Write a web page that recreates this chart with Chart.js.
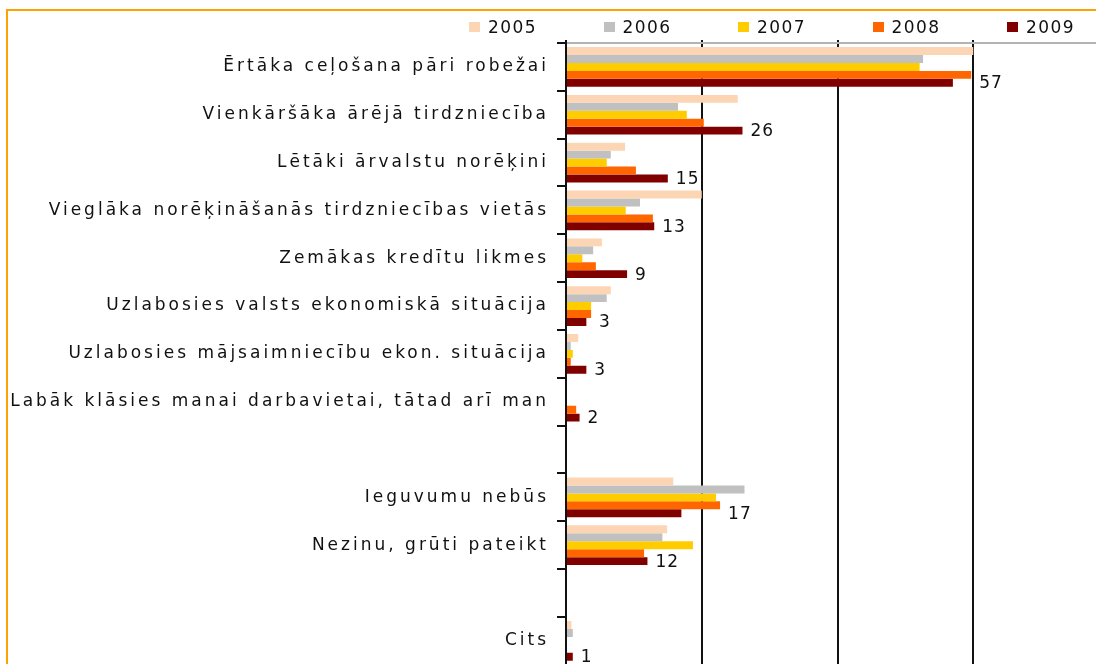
<!DOCTYPE html>
<html>
<head>
<meta charset="utf-8">
<script src="https://cdn.jsdelivr.net/npm/chart.js@4"></script>
<style>
  html, body { margin: 0; padding: 0; background: #fff; overflow: hidden; width: 1096px; height: 664px; }
  .rule { position: absolute; background: #ffa200; }
  #chart { position: absolute; left: 0; top: 0; }
  #legend { position: absolute; left: 469px; top: 18px; display: flex; }
  .item { width: 134.5px; display: flex; align-items: center; height: 18px;
          font: 17px "DejaVu Sans"; letter-spacing: 1.4px; color: #111; }
  .box { width: 11px; height: 10px; margin-right: 8px; }
</style>
</head>
<body>
<div class="rule" style="left:6px; top:9px; width:1090px; height:2px;"></div>
<div class="rule" style="left:6px; top:9px; width:2px; height:655px;"></div>
<canvas id="chart" width="1109" height="683"></canvas>
<div id="legend"></div>
<script>
const categories = [
  "Ērtāka ceļošana pāri robežai",
  "Vienkāršāka ārējā tirdzniecība",
  "Lētāki ārvalstu norēķini",
  "Vieglāka norēķināšanās tirdzniecības vietās",
  "Zemākas kredītu likmes",
  "Uzlabosies valsts ekonomiskā situācija",
  "Uzlabosies mājsaimniecību ekon. situācija",
  "Labāk klāsies manai darbavietai, tātad arī man",
  "",
  "Ieguvumu nebūs",
  "Nezinu, grūti pateikt",
  "",
  "Cits"
];

const years = ["2005", "2006", "2007", "2008", "2009"];
const colors = ["#fcd5b4", "#c0c0c0", "#ffcc00", "#ff6600", "#800000"];

const values2005 = [60, 25.3, 8.7, 20, 5.3, 6.6, 1.8, 0, null, 15.8, 14.9, null, 0.8];
const values2006 = [52.6, 16.5, 6.6, 10.9, 4, 6, 0.7, 0, null, 26.3, 14.2, null, 1];
const values2007 = [52.1, 17.8, 6, 8.8, 2.4, 3.7, 1, 0, null, 22.1, 18.7, null, 0];
const values2008 = [59.7, 20.3, 10.3, 12.8, 4.4, 3.7, 0.7, 1.5, null, 22.7, 11.5, null, 0];
const values2009 = [57, 26, 15, 13, 9, 3, 3, 2, null, 17, 12, null, 1];

const xTicks = [0, 20, 40, 60, 80];

const allValues = [values2005, values2006, values2007, values2008, values2009];

// html legend, same order as the datasets
const legendEl = document.getElementById("legend");
years.forEach((y, i) => {
  const item = document.createElement("div");
  item.className = "item";
  item.innerHTML = `<span class="box" style="background:${colors[i]}"></span>${y}`;
  legendEl.appendChild(item);
});

// the original text is spaced out quite a bit
const spacingPlugin = {
  id: "spacing",
  beforeLayout(chart) { chart.ctx.letterSpacing = "3px"; },
  beforeDraw(chart) { chart.ctx.letterSpacing = "3px"; },
};

// value labels only for the last year, placed past the 2008/2009 bars
const valueLabels = {
  id: "valueLabels",
  afterDatasetsDraw(chart) {
    const ctx = chart.ctx;
    const last = chart.getDatasetMeta(4);
    const prev = chart.getDatasetMeta(3);
    ctx.save();
    ctx.letterSpacing = "1px";
    ctx.font = '17px "DejaVu Sans"';
    ctx.fillStyle = "#111";
    ctx.textAlign = "left";
    ctx.textBaseline = "middle";
    last.data.forEach((bar, i) => {
      const v = values2009[i];
      if (v === null) return;
      const end = Math.max(bar.x, prev.data[i].x);
      ctx.fillText(String(v), end + 8, bar.y + 1);
    });
    ctx.restore();
  },
};

new Chart(document.getElementById("chart"), {
  type: "bar",
  data: {
    labels: categories,
    datasets: years.map((y, i) => ({
      label: y,
      data: allValues[i],
      backgroundColor: colors[i],
      borderWidth: 0,
      categoryPercentage: 0.83,
      barPercentage: 1.0,
    })),
  },
  options: {
    indexAxis: "y",
    responsive: false,
    devicePixelRatio: 1,
    animation: false,
    layout: { padding: 0 },
    plugins: {
      legend: { display: false },
      tooltip: { enabled: false },
    },
    scales: {
      x: {
        position: "top",
        min: 0,
        max: 80,
        afterBuildTicks: (scale) => {
          scale.ticks = xTicks.map((v) => ({ value: v }));
        },
        afterFit: (scale) => {
          scale.height = 43;
        },
        ticks: { display: false },
        grid: {
          color: "#111",
          lineWidth: 2,
          tickColor: "#111",
          tickLength: 3,
        },
        border: { color: "#b4b4b4", width: 2 },
      },
      y: {
        afterFit: (scale) => {
          scale.width = 566;
        },
        ticks: {
          autoSkip: false,
          padding: 8,
          color: "#111",
          font: { family: "DejaVu Sans", size: 17 },
        },
        grid: {
          drawOnChartArea: false,
          color: "#111",
          lineWidth: 2,
          tickLength: 9,
        },
        border: { color: "#111", width: 2 },
      },
    },
  },
  plugins: [spacingPlugin, valueLabels],
});
</script>
</body>
</html>
